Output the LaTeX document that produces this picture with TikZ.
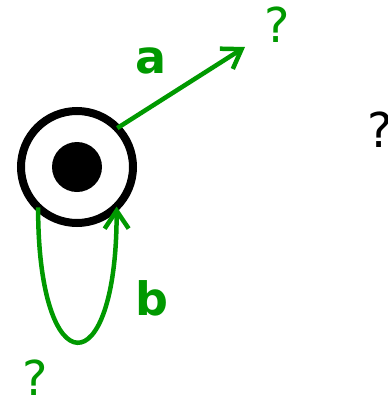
\documentclass[tikz,border=0pt]{standalone}
\usepackage{fontspec}
\setmainfont{DejaVu Sans}
\usetikzlibrary{arrows.meta}
\definecolor{grn}{RGB}{0,153,0}
\begin{document}
\begin{tikzpicture}[x=1pt,y=-1pt,
  edge/.style={draw=grn,line width=4.5pt,-{Straight Barb[length=18pt,width=24pt,line width=4.5pt]}},
  qmark/.style={inner sep=0pt,font=\fontsize{48}{48}\selectfont},
  lab/.style={inner sep=0pt,text=grn,font=\bfseries\fontsize{46}{46}\selectfont}]
\useasboundingbox (0,0) rectangle (388,400);
\node[circle,draw=black,line width=8pt,minimum size=112pt,inner sep=0pt,outer sep=0pt] (s) at (77,167) {};
\node[circle,fill=black,minimum size=50pt,inner sep=0pt] (d) at (77,167) {};
\coordinate (t) at (245,47);
\draw[edge] (s.44) -- (t);
\draw[edge] (s.226) .. controls (38,387) and (117,387) .. (s.-45);
\node[lab] (la) at (151,61) {a};
\node[lab] (lb) at (152,298) {b};
\node[qmark,text=grn] (q1) at (277,25) {?};
\node[qmark,text=grn] (q2) at (35,378) {?};
\node[qmark,text=black] (q3) at (380,130) {?};
\end{tikzpicture}
\end{document}
